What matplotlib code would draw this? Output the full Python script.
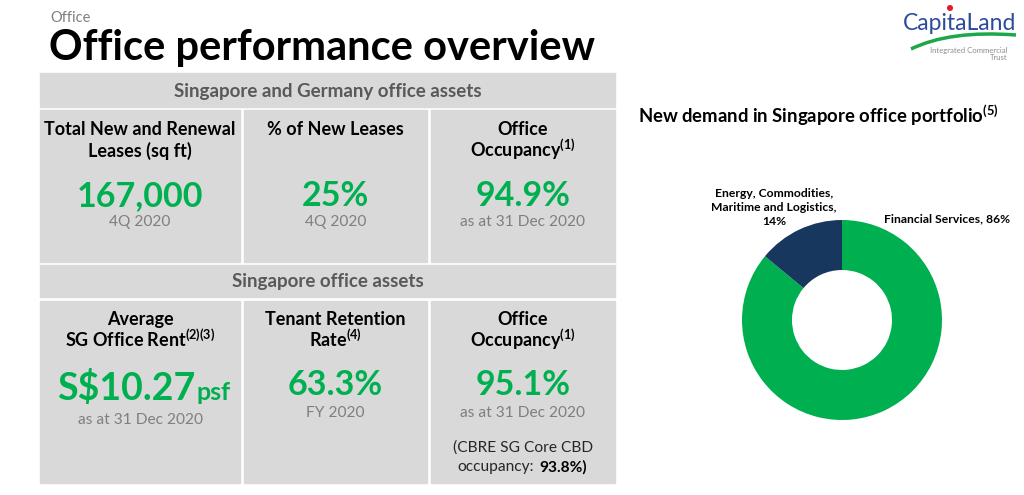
import matplotlib
matplotlib.use("Agg")
import matplotlib.pyplot as plt
from matplotlib.patches import Rectangle, Circle, PathPatch
from matplotlib.path import Path

# fonts
plt.rcParams['font.family'] = ['Lato', 'DejaVu Sans']
plt.rcParams['mathtext.fontset'] = 'custom'
plt.rcParams['mathtext.rm'] = 'Lato'
plt.rcParams['mathtext.bf'] = 'Lato:bold'

GREEN = '#00B050'
NAVY = '#17375E'
CELL = '#D9D9D9'
GREY = '#7F7F7F'

# ---- data ----
section_titles = ["Singapore and Germany office assets", "Singapore office assets"]
row1_labels = [["Total New and Renewal", "Leases (sq ft)"],
               ["% of New Leases"],
               ["Office", "Occupancy$^{\\mathbf{(1)}}$"]]
row1_values = ["167,000", "25%", "94.9%"]
row1_notes = ["4Q 2020", "4Q 2020", "as at 31 Dec 2020"]
row2_labels = [["Average", "SG Office Rent$^{\\mathbf{(2)(3)}}$"],
               ["Tenant Retention", "Rate$^{\\mathbf{(4)}}$"],
               ["Office", "Occupancy$^{\\mathbf{(1)}}$"]]
row2_values = ["S$10.27", "63.3%", "95.1%"]
row2_notes = ["as at 31 Dec 2020", "FY 2020", "as at 31 Dec 2020"]
cbre_note = ["(CBRE SG Core CBD", "occupancy:"]
cbre_value = "93.8%)"

demand_sectors = ["Financial Services", "Energy, Commodities,\nMaritime and Logistics,"]
demand_share = [86, 14]
demand_colors = [GREEN, NAVY]

fig = plt.figure(figsize=(10.24, 4.95), dpi=100)
ax = fig.add_axes([0, 0, 1, 1])
ax.set_xlim(0, 1024)
ax.set_ylim(495, 0)
ax.axis('off')

# title
ax.text(50, 18, "Office", fontsize=10.5, color=GREY, va='center')
ax.text(49, 60, "Office performance overview", fontsize=30, fontweight='bold', va='baseline')

# table boxes
cols = [(40, 240), (244, 427), (431, 615)]
ax.add_patch(Rectangle((40, 73), 575, 34, color=CELL))
ax.add_patch(Rectangle((40, 265), 575, 32, color=CELL))
for x0, x1 in cols:
    ax.add_patch(Rectangle((x0, 110), x1 - x0, 152, color=CELL))
    ax.add_patch(Rectangle((x0, 301), x1 - x0, 182, color=CELL))

ax.text(328, 91, section_titles[0], fontsize=13.5, fontweight='bold', color='#595959', ha='center', va='center')
ax.text(328, 282, section_titles[1], fontsize=13.5, fontweight='bold', color='#595959', ha='center', va='center')

for i, (x0, x1) in enumerate(cols):
    cx = (x0 + x1) / 2
    for j, line in enumerate(row1_labels[i]):
        ax.text(cx, 135 + 22 * j, line, fontsize=13, fontweight='bold', ha='center', va='baseline')
    ax.text(cx, 196, row1_values[i], fontsize=24.5, fontweight='bold', color=GREEN, ha='center', va='center')
    ax.text(cx, 222, row1_notes[i], fontsize=11.2, color=GREY, ha='center', va='center')

    for j, line in enumerate(row2_labels[i]):
        ax.text(cx, 325 + 22 * j, line, fontsize=13, fontweight='bold', ha='center', va='baseline')
    ax.text(cx, 413 if i else 420, row2_notes[i], fontsize=11.2, color=GREY, ha='center', va='center')

# row 2 big values
ax.text(195, 400, row2_values[0], fontsize=27, fontweight='bold', color=GREEN, ha='right', va='baseline')
ax.text(196, 400, "psf", fontsize=18, fontweight='bold', color=GREEN, ha='left', va='baseline')
ax.text(335.5, 385, row2_values[1], fontsize=24.5, fontweight='bold', color=GREEN, ha='center', va='center')
ax.text(523, 385, row2_values[2], fontsize=24.5, fontweight='bold', color=GREEN, ha='center', va='center')

ax.text(523, 448, cbre_note[0], fontsize=11.2, color='#262626', ha='center', va='center')
ax.text(457, 467, cbre_note[1], fontsize=11.2, color='#262626', ha='left', va='center')
ax.text(587, 467, cbre_value, fontsize=11.2, fontweight='bold', ha='right', va='center')

# logo
ax.text(960, 30, "CapitaLand", fontsize=16.5, color='#2B4C9B', ha='center', va='baseline')
ax.add_patch(Circle((950, 8), 2.3, color='#E31B23'))
swoosh = Path([(911, 49), (950, 30), (1016, 35)], [Path.MOVETO, Path.CURVE3, Path.CURVE3])
ax.add_patch(PathPatch(swoosh, fill=False, edgecolor='#1DA64A', lw=2.5))
ax.text(1008, 51, "Integrated Commercial", fontsize=5.6, color='#8C8C8C', ha='right', va='center')
ax.text(1008, 58, "Trust", fontsize=5.6, color='#8C8C8C', ha='right', va='center')

# donut
ax.text(638, 123, "New demand in Singapore office portfolio$^{\\mathbf{(5)}}$", fontsize=13.3,
        fontweight='bold', va='baseline')
pie_ax = fig.add_axes([742 / 1024, (495 - 420) / 495, 200 / 1024, 200 / 495])
pie_ax.pie(demand_share, colors=demand_colors, startangle=90, counterclock=False,
           wedgeprops=dict(width=0.5, edgecolor='none'))
pie_ax.set_xlim(-1, 1)
pie_ax.set_ylim(-1, 1)

ax.text(774, 207.5, f"{demand_sectors[1]}\n{demand_share[1]}%", fontsize=8.7, fontweight='bold',
        ha='center', va='center', linespacing=1.3)
ax.text(884, 219, f"{demand_sectors[0]}, {demand_share[0]}%", fontsize=8.7, fontweight='bold',
        ha='left', va='center')

fig.savefig("out.png", dpi=100)
